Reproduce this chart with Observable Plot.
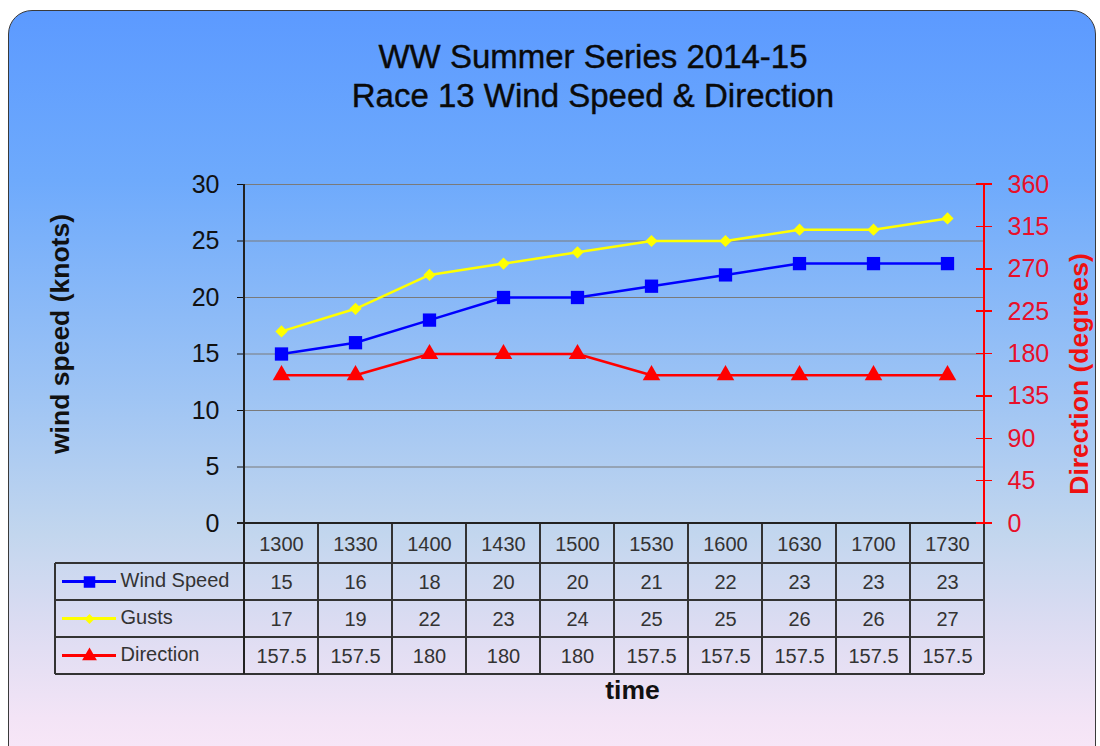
<!DOCTYPE html>
<html>
<head>
<meta charset="utf-8">
<script src="https://cdn.jsdelivr.net/npm/d3@7"></script>
<script src="https://cdn.jsdelivr.net/npm/@observablehq/plot@0.6"></script>
<style>
  html, body { margin: 0; padding: 0; background: #ffffff; }
  #wrap { position: relative; width: 1100px; height: 746px; overflow: hidden; font-family: "Liberation Sans", Arial, sans-serif; }
  #bg { position: absolute; left: 8px; top: 10px; width: 1088px; height: 770px; box-sizing: border-box;
        border: 1.5px solid #3a3a3a; border-radius: 24px;
        background: linear-gradient(to bottom, #5c9aff 0%, #6eaafc 22%, #9ec4f4 50%, #c2d6ee 68%, #dcdcf2 80%, #f3e4f6 92%, #fbe8f8 100%); }
  #title { position: absolute; top: 37px; left: 593px; transform: translateX(-50%); white-space: nowrap;
           text-align: center; font-size: 33px; line-height: 39px; font-weight: normal; color: #0a0a0a;
           -webkit-text-stroke: 0.4px #0a0a0a; }
  #chart { position: absolute; top: 130px; left: 0; }
</style>
</head>
<body>
<div id="wrap">
  <div id="bg"></div>
  <div id="title">WW Summer Series 2014-15<br>Race 13 Wind Speed &amp; Direction</div>
  <div id="chart"></div>
</div>
<script>
// ---- Data ----
const times = ["1300","1330","1400","1430","1500","1530","1600","1630","1700","1730"];
const windSpeed = [15,16,18,20,20,21,22,23,23,23];
const gusts = [17,19,22,23,24,25,25,26,26,27];
const direction = [157.5,157.5,180,180,180,157.5,157.5,157.5,157.5,157.5];
const speedTicks = [0,5,10,15,20,25,30];
const dirTicks = [0,45,90,135,180,225,270,315,360];
const seriesNames = ["Wind Speed","Gusts","Direction"];

// secondary axis: 0–360 degrees shown against the 0–30 knot scale
const dirMax = 360, speedMax = 30;
const dirToSpeed = d => d * speedMax / dirMax;

const seriesValues = [windSpeed, gusts, direction];
const seriesY = [v => v, v => v, dirToSpeed];
const seriesColor = ["#0000ff", "#ffff00", "#ff0000"];
const seriesSymbol = ["square", "diamond2", "triangle"];
const seriesR = [7.5, 5.5, 6.5];

const rows = seriesNames.map((name, s) =>
  times.map((t, i) => ({ series: name, time: t, value: seriesValues[s][i], y: seriesY[s](seriesValues[s][i]) }))
);

// ---- Layout ----
const headerH = 40, rowH = 37;
const rowCenter = k => headerH + rowH * k + rowH / 2;   // offset below x axis
const tableLeft = 55;
const fontFamily = "'Liberation Sans', Arial, sans-serif";

function tableGrid(index, scales, values, dims) {
  const x = scales.x, y = scales.y;
  const x0 = x(times[0]);
  const step = x(times[1]) - x(times[0]);
  const xEnd = x0 + step * times.length;
  const yTop = y(speedMax), yBot = y(0);
  const tableBot = yBot + headerH + rowH * seriesNames.length;
  const g = d3.create("svg:g").attr("fill", "none");
  const line = (x1, y1, x2, y2, stroke, w) =>
    g.append("line").attr("x1", x1).attr("y1", y1).attr("x2", x2).attr("y2", y2)
     .attr("stroke", stroke).attr("stroke-width", w).attr("shape-rendering", "crispEdges");
  // band separators inside the table
  for (let i = 1; i < times.length; i++) line(x0 + step * i, yBot, x0 + step * i, tableBot, "#333", 1.5);
  // horizontal table lines
  for (let k = 0; k < seriesNames.length; k++) {
    const yy = yBot + headerH + rowH * k;
    line(tableLeft, yy, xEnd, yy, "#333", 1.5);
  }
  line(tableLeft, tableBot, xEnd, tableBot, "#333", 1.5);
  line(tableLeft, yBot + headerH, tableLeft, tableBot, "#333", 1.5);
  // right border of table
  line(xEnd, yBot, xEnd, tableBot, "#333", 1.5);
  // left axis line + table left border
  line(x0, yTop, x0, tableBot, "#222", 1.5);
  // x axis line
  line(x0 - 7, yBot, xEnd, yBot, "#222", 1.5);
  // right (direction) axis line and its ticks (crossing the axis)
  line(xEnd, yTop, xEnd, yBot, "#ff0000", 1.5);
  dirTicks.forEach(d => { const yy = y(dirToSpeed(d)); line(xEnd - 8, yy, xEnd + 8, yy, "#ff0000", 1.5); });
  // legend sample lines
  seriesNames.forEach((n, k) => {
    const yy = yBot + rowCenter(k);
    line(62, yy, 116, yy, seriesColor[k], 2.5);
  });
  return g.node();
}

const marks = [
  Plot.ruleY(speedTicks.filter(d => d > 0), { y: d => d, stroke: "#7a7a7a", strokeWidth: 1.2 }),
  Plot.axisY({ ticks: speedTicks, tickSize: 7, tickPadding: 18, fontSize: 25, color: "#111", label: null, tickFormat: d => d }),
  Plot.axisY({ anchor: "right", ticks: dirTicks.map(dirToSpeed), tickSize: 0, tickPadding: 23, fontSize: 25, color: "#e8102a", label: null,
               tickFormat: d => Math.round(d * dirMax / speedMax) }),
  tableGrid
];

// series lines & markers
seriesNames.forEach((name, s) => {
  marks.push(Plot.line(rows[s], { x: "time", y: "y", stroke: seriesColor[s], strokeWidth: 2.5 }));
  marks.push(Plot.dot(rows[s], { x: "time", y: "y", symbol: () => seriesSymbol[s], r: seriesR[s], fill: seriesColor[s], stroke: "none" }));
});

// table header (time) row
marks.push(Plot.text(times, { x: d => d, text: d => d, frameAnchor: "bottom", dy: headerH / 2 + 1, lineAnchor: "middle", fontSize: 20, fill: "#333" }));
// table value rows and legend
seriesNames.forEach((name, s) => {
  marks.push(Plot.text(rows[s], { x: "time", text: d => String(d.value), frameAnchor: "bottom", dy: rowCenter(s) + 1, lineAnchor: "middle", fontSize: 20, fill: "#333" }));
  marks.push(Plot.text([name], { text: d => d, frameAnchor: "bottom-left", dx: 120 - 244, dy: rowCenter(s) - 1, lineAnchor: "middle", textAnchor: "start", fontSize: 20, fill: "#333" }));
  marks.push(Plot.dot([name], { frameAnchor: "bottom-left", dx: 89 - 244, dy: rowCenter(s), symbol: () => seriesSymbol[s], r: seriesR[s] - 1, fill: seriesColor[s] }));
});

// axis titles
marks.push(Plot.text(["wind speed (knots)"], { text: d => d, frameAnchor: "left", dx: 60 - 244, dy: -20, rotate: -90, textAnchor: "middle", lineAnchor: "middle", fontSize: 26.5, fontWeight: "bold", fill: "#111" }));
marks.push(Plot.text(["Direction (degrees)"], { text: d => d, frameAnchor: "right", dx: 1079 - 984, dy: 20, rotate: -90, textAnchor: "middle", lineAnchor: "middle", fontSize: 26.5, fontWeight: "bold", fill: "#ee1111" }));
marks.push(Plot.text(["time"], { text: d => d, frameAnchor: "bottom", dx: 18, dy: 167, textAnchor: "middle", lineAnchor: "middle", fontSize: 26.5, fontWeight: "bold", fill: "#111" }));

const chart = Plot.plot({
  width: 1100,
  height: 616,
  marginLeft: 244,
  marginRight: 116,
  marginTop: 54,
  marginBottom: 223,
  x: { type: "band", domain: times, padding: 0, axis: null },
  y: { domain: [0, speedMax], axis: null },
  style: { background: "transparent", fontFamily: fontFamily, overflow: "visible" },
  marks
});
document.getElementById("chart").appendChild(chart);
</script>
</body>
</html>
